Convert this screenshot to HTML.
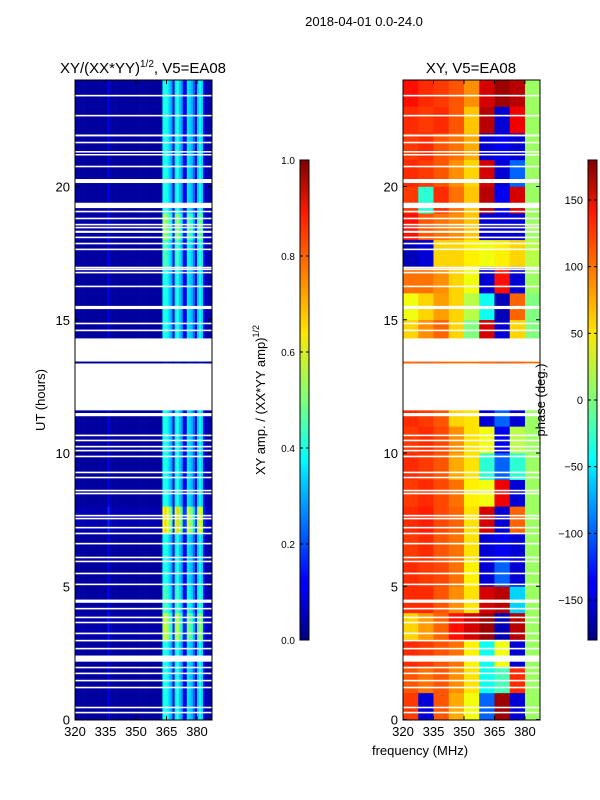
<!DOCTYPE html>
<html><head><meta charset="utf-8"><style>
body{margin:0;background:#fff}
svg{display:block;font-family:"Liberation Sans",sans-serif}
</style></head><body>
<svg id="s" width="600" height="800" xmlns="http://www.w3.org/2000/svg">
<defs>
<linearGradient id="jet" x1="0" y1="1" x2="0" y2="0">
<stop offset="0" stop-color="#00007f"/><stop offset="0.11" stop-color="#0000ff"/><stop offset="0.125" stop-color="#0000ff"/>
<stop offset="0.34" stop-color="#00d4ff"/><stop offset="0.375" stop-color="#00ffff"/><stop offset="0.5" stop-color="#7dff7a"/>
<stop offset="0.64" stop-color="#ffe600"/><stop offset="0.66" stop-color="#ffd400"/><stop offset="0.89" stop-color="#ff1a00"/><stop offset="1" stop-color="#7f0000"/>
</linearGradient>
</defs>
<text x="364" y="26" font-size="13" text-anchor="middle">2018-04-01 0.0-24.0</text>
<text x="143" y="73" font-size="15" text-anchor="middle">XY/(XX*YY)<tspan font-size="10" dy="-6">1/2</tspan><tspan dy="6">, V5=EA08</tspan></text>
<text x="471" y="73" font-size="15" text-anchor="middle">XY, V5=EA08</text>
<text transform="translate(45,400) rotate(-90)" font-size="13" text-anchor="middle">UT (hours)</text>
<text x="420" y="755" font-size="13" text-anchor="middle">frequency (MHz)</text>
<g id="left"></g>
<g id="right"></g>
<g id="gapsL"></g>
<g id="gapsR"></g>
<g id="axes"></g>
<rect x="300" y="160" width="9" height="480" fill="url(#jet)" stroke="#000" stroke-width="1"/>
<rect x="588" y="160" width="9" height="480" fill="url(#jet)" stroke="#000" stroke-width="1"/>
<g id="cb"></g>
<text transform="translate(265,400) rotate(-90)" font-size="13" text-anchor="middle">XY amp. / (XX*YY amp)<tspan font-size="9" dy="-6">1/2</tspan></text>
<text transform="translate(545,400) rotate(-90)" font-size="13" text-anchor="middle">phase (deg.)</text>
</svg>
<script>
// ---- data ----
const ampProfile = [0.03,0.03,0.03,0.03,0.03,0.03,0.03,0.03,0.03,0.03,0.03,0.03,0.03,0.03,0.03,0.03,0.1,0.03,0.03,0.03,
 0.03,0.03,0.03,0.03,0.03,0.03,0.03,0.03,0.03,0.03,0.03,0.03,0.03,0.03,0.03,0.03,0.03,0.03,0.03,0.03,
 0.03,0.03,0.03,0.38,0.42,0.38,0.33,0.28,0.1,0.36,0.42,0.33,0.28,0.1,0.12,0.36,0.33,0.3,0.22,0.1,
 0.33,0.38,0.33,0.1,0.04,0.04,0.04,0.04];
const ampHourScale = [1,1,1,1.4,1.1,1,1,1.6,1,1,1,1,1,1,1,1,1,1.1,1.3,1,1,1,1,1];
const phaseRows = [
 [115,-150,105,75,40,-100,170,-150,10],
 [105,95,105,85,55,-40,-20,120,10],
 [120,115,105,95,50,-40,40,-150,10],
 [60,80,100,130,150,170,-160,160,10],
 [120,120,105,85,55,150,160,-60,10],
 [120,115,110,95,50,-150,-100,-150,10],
 [115,120,105,95,55,-150,-140,-150,10],
 [120,125,110,100,55,150,-150,100,10],
 [115,120,110,95,50,40,140,-150,10],
 [120,115,105,75,55,-30,-100,-30,10],
 [115,120,110,85,55,40,-140,20,10],
 [120,115,105,60,55,-150,-100,-150,10],
 [115,105,95,75,55,40,-150,140,10],
 [140,-150,110,60,40,160,-150,150,10],
 [60,85,100,60,0,150,-150,60,0],
 [40,60,80,60,20,-40,-160,100,0],
 [95,95,85,60,40,-150,130,-150,10],
 [-160,-150,60,60,50,40,50,60,20],
 [130,105,95,85,65,-150,-150,-150,10],
 [115,-30,120,95,65,160,-140,150,10],
 [120,115,105,85,60,150,-150,-100,10],
 [115,120,105,95,75,-150,-140,-150,10],
 [120,115,120,105,65,160,-150,140,10],
 [130,120,115,105,85,150,170,160,10]];
const phaseColEdges = [320,327.5,335,342.5,350,357.5,365,372.5,380,387.4];
const gaps = [[23.38,23.44],[22.63,22.69],[21.88,21.95],[21.62,21.68],[21.28,21.33],[21.17,21.22],[20.72,20.78],[20.13,20.28],[19.19,19.39],[19.03,19.09],
 [18.77,18.83],[18.54,18.6],[18.43,18.49],[18.26,18.34],[18.06,18.12],[17.83,17.89],[17.61,17.67],[16.93,16.99],[16.86,16.92],[16.74,16.8],
 [16.22,16.28],[15.4,15.52],[14.83,14.89],[14.57,14.63],[13.43,14.3],[11.6,13.36],[11.38,11.5],[10.63,10.69],[10.44,10.5],[10.21,10.27],[10.06,10.12],
 [9.84,9.9],[9.24,9.3],[9.05,9.11],[8.56,8.62],[8.45,8.51],[7.62,7.68],[7.51,7.57],[7.17,7.23],[6.95,7.01],[6.57,6.63],[6.05,6.11],[5.9,5.96],
 [5.45,5.51],[5.04,5.1],[4.38,4.5],[4.13,4.19],[3.8,3.86],[3.61,3.67],[3.2,3.26],[2.93,2.99],[2.63,2.69],[2.17,2.4],[1.92,1.98],[1.7,1.76],
 [1.43,1.49],[1.17,1.23],[0.42,0.48],[0.23,0.29]];
const yTicks=[0,5,10,15,20], xTicks=[320,335,350,365,380];
const ampTicks=[0,0.2,0.4,0.6,0.8,1.0], phaseTicks=[-150,-100,-50,0,50,100,150];
// ---- scales ----
const NS="http://www.w3.org/2000/svg";
const ty=h=>719.5-h*26.65;
const fxL=f=>75+(f-320)*137/67.4, fxR=f=>403+(f-320)*137/67.4;
function jet(v){v=Math.max(0,Math.min(1,v));
 const r=Math.max(0,Math.min(1,1.5-Math.abs(4*v-3))),g=Math.max(0,Math.min(1,1.5-Math.abs(4*v-2))),b=Math.max(0,Math.min(1,1.5-Math.abs(4*v-1)));
 return `rgb(${Math.round(r*255)},${Math.round(g*255)},${Math.round(b*255)})`;}
function mk(tag,a,p){const e=document.createElementNS(NS,tag);for(const k in a)e.setAttribute(k,a[k]);p.appendChild(e);return e;}
// left heatmap
const L=document.getElementById('left');
for(let h=0;h<24;h++){for(let c=0;c<ampProfile.length;c++){
 const f=320+c, v=ampProfile[c]*ampHourScale[h];
 const x0=fxL(f), x1=Math.min(fxL(f+1),212);
 const r=mk('rect',{x:x0,y:ty(h+1),width:x1-x0+0.3,height:26.95,fill:jet(v)},L);
 
 
}}
// right heatmap
const R=document.getElementById('right');
for(let h=0;h<24;h++){for(let c=0;c<9;c++){
 const x0=fxR(phaseColEdges[c]), x1=fxR(phaseColEdges[c+1]);
 const r=mk('rect',{x:x0,y:ty(h+1),width:x1-x0+0.3,height:26.95,fill:jet((phaseRows[h][c]+180)/360)},R);
 
 
}}
// gaps
for(const [a,b] of gaps){
 for(const [id,x] of [['gapsL',75],['gapsR',403]]){
  const y0=ty(b), hh=Math.max(1.5,ty(a)-ty(b));
  const r=mk('rect',{x:x,y:y0,width:137,height:hh,fill:'#fff'},document.getElementById(id));
  
  
 }
}
// thin line at 13.4h
for(const x of [75,403]){const r=mk('rect',{x:x,y:ty(13.43),width:137,height:1.8,fill:x==75?'#00009a':'#ff6a00'},document.getElementById('gapsL'));
 
 }
// axes
const A=document.getElementById('axes');
for(const [x0,fx,nm] of [[75,fxL,'left'],[403,fxR,'right']]){
 const fr=mk('rect',{x:x0,y:80,width:137,height:640,fill:'none',stroke:'#000','stroke-width':1},A);
 
 
 for(const t of yTicks){const y=ty(t);
  mk('line',{x1:x0,x2:x0+4,y1:y,y2:y,stroke:'#000'},A);mk('line',{x1:x0+137,x2:x0+133,y1:y,y2:y,stroke:'#000'},A);
  const tx=mk('text',{x:x0-5,y:y+5,'font-size':13,'text-anchor':'end'},A);tx.textContent=t;
  
  }
 for(const t of xTicks){const x=fx(t);
  mk('line',{x1:x,x2:x,y1:720,y2:716,stroke:'#000'},A);mk('line',{x1:x,x2:x,y1:80,y2:84,stroke:'#000'},A);
  const tx=mk('text',{x:x,y:736,'font-size':13,'text-anchor':'middle'},A);tx.textContent=t;
  
  }
}
// colorbar ticks
const C=document.getElementById('cb');
for(const t of ampTicks){const y=640-t*480;
 mk('line',{x1:300,x2:303,y1:y,y2:y,stroke:'#000'},C);mk('line',{x1:309,x2:306,y1:y,y2:y,stroke:'#000'},C);
 const tx=mk('text',{x:295,y:y+4,'font-size':10,'text-anchor':'end'},C);tx.textContent=t.toFixed(1);
 
 }
for(const t of phaseTicks){const y=400-t/180*240;
 mk('line',{x1:588,x2:591,y1:y,y2:y,stroke:'#000'},C);mk('line',{x1:597,x2:594,y1:y,y2:y,stroke:'#000'},C);
 const tx=mk('text',{x:583,y:y+4,'font-size':11,'text-anchor':'end'},C);tx.textContent=t<0?'\u2212'+(-t):t;
 
 }
</script>
</body></html>
